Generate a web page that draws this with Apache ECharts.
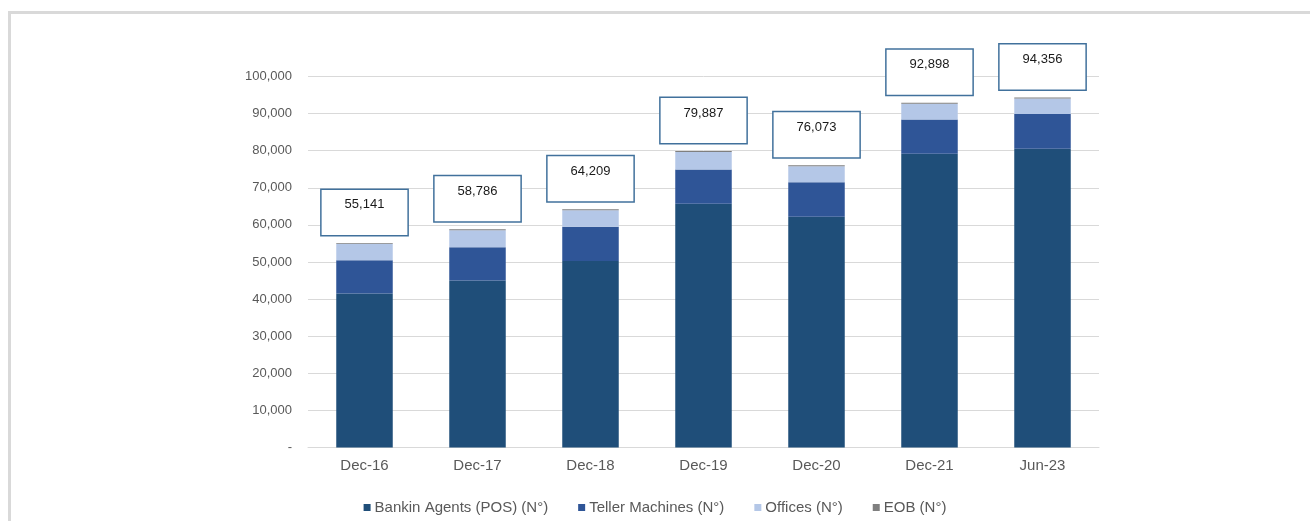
<!DOCTYPE html>
<html>
<head>
<meta charset="utf-8">
<script src="https://cdn.jsdelivr.net/npm/echarts@6/dist/echarts.min.js"></script>
<style>
  html, body { margin: 0; padding: 0; background: #fff; }
  #frame {
    position: absolute; left: 8px; top: 11px; width: 1310px; height: 520px;
    border-top: 3px solid #d9d9d9; border-left: 3px solid #d9d9d9;
  }
  #chart { position: absolute; left: 0; top: 0; width: 1310px; height: 521px; }
</style>
</head>
<body>
<div id="frame"></div>
<div id="chart"></div>
<script>
const categories = ['Dec-16', 'Dec-17', 'Dec-18', 'Dec-19', 'Dec-20', 'Dec-21', 'Jun-23']
const agents = [41500, 45000, 50300, 65700, 62200, 79200, 80500]
const tellers = [9000, 9000, 9200, 9200, 9300, 9200, 9400]
const offices = [4400, 4550, 4450, 4750, 4300, 4250, 4200]
const eob = [250, 250, 250, 250, 250, 250, 250]
const totals = [55141, 58786, 64209, 79887, 76073, 92898, 94356]

const textColor = '#595959'
const fontFamily = 'Liberation Sans, Arial, sans-serif'

function fmt(v) {
  return v === 0 ? '-' : v.toLocaleString('en-US')
}

let chart = echarts.init(document.getElementById('chart'))

let option = {
  animation: false,
  textStyle: { fontFamily: fontFamily },
  grid: { left: 308, right: 211, top: 76.5, bottom: 73.5 },
  legend: {
    top: 495,
    left: 'center',
    itemWidth: 7,
    itemHeight: 7,
    itemGap: 30,
    icon: 'rect',
    textStyle: { color: textColor, fontSize: 15, fontFamily: fontFamily, padding: [0, 0, 0, -1] },
    data: ['Bankin Agents (POS) (N°)', 'Teller Machines (N°)', 'Offices (N°)', 'EOB (N°)']
  },
  xAxis: {
    type: 'category',
    data: categories,
    axisLine: { lineStyle: { color: '#d9d9d9', width: 1 } },
    axisTick: { show: false },
    axisLabel: { color: textColor, fontSize: 15, margin: 11 }
  },
  yAxis: {
    type: 'value',
    min: 0,
    max: 100000,
    interval: 10000,
    axisLine: { show: false },
    axisTick: { show: false },
    splitLine: { lineStyle: { color: '#d9d9d9', width: 1 } },
    axisLabel: { color: textColor, fontSize: 13, margin: 16, formatter: fmt }
  },
  series: [
    {
      name: 'Bankin Agents (POS) (N°)', type: 'bar', stack: 'total', barWidth: '50%',
      itemStyle: { color: '#1f4e79' }, data: agents
    },
    {
      name: 'Teller Machines (N°)', type: 'bar', stack: 'total',
      itemStyle: { color: '#2f5597' }, data: tellers
    },
    {
      name: 'Offices (N°)', type: 'bar', stack: 'total',
      itemStyle: { color: '#b4c7e7' }, data: offices
    },
    {
      name: 'EOB (N°)', type: 'bar', stack: 'total',
      itemStyle: { color: '#7f7f7f' }, data: eob,
      label: {
        show: true,
        position: 'top',
        distance: 8,
        formatter: p => totals[p.dataIndex].toLocaleString('en-US'),
        color: '#1a1a1a',
        fontSize: 13,
        lineHeight: 16,
        backgroundColor: '#fff',
        borderColor: '#41719c',
        borderWidth: 1.5,
        padding: [7, 23, 22, 23]
      }
    }
  ]
}

chart.setOption(option)
</script>
</body>
</html>
